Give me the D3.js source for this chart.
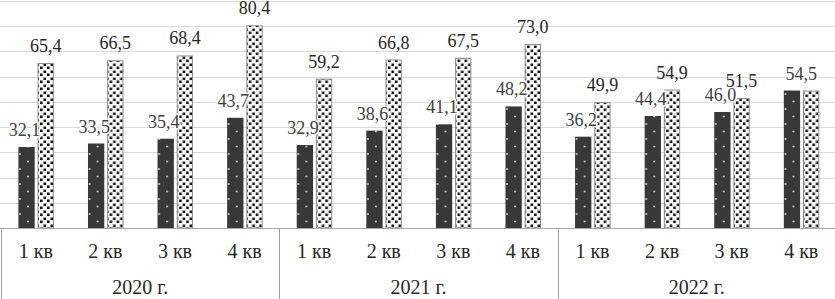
<!DOCTYPE html>
<html>
<head>
<meta charset="utf-8">
<script src="https://cdn.jsdelivr.net/npm/d3@7"></script>
<style>
  html, body { margin: 0; padding: 0; background: #fff; }
  svg { display: block; }
  svg text { font-family: "Liberation Serif", "Times New Roman", serif; }
</style>
</head>
<body>
<svg id="chart"></svg>
<script>
const years = ["2020 г.", "2021 г.", "2022 г."];
const quarters = ["1 кв", "2 кв", "3 кв", "4 кв"];
const seriesDark = [32.1, 33.5, 35.4, 43.7, 32.9, 38.6, 41.1, 48.2, 36.2, 44.4, 46.0, 54.5];
const seriesDots = [65.4, 66.5, 68.4, 80.4, 59.2, 66.8, 67.5, 73.0, 49.9, 54.9, 51.5, 54.5];
const yTicks = [0, 10, 20, 30, 40, 50, 60, 70, 80, 90];

const width = 835, height = 299;
const axisY = 228;

const rows = [];
years.forEach((y, i) => quarters.forEach((q, j) => {
    const k = i * quarters.length + j;
    rows.push({ key: y + "|" + q, year: y, quarter: q, dark: seriesDark[k], dots: seriesDots[k] });
}));

const svg = d3.select("#chart").attr("width", width).attr("height", height);

const defs = svg.append("defs");
const pDark = defs.append("pattern").attr("id", "pDark")
    .attr("patternUnits", "userSpaceOnUse").attr("width", 16).attr("height", 15);
pDark.append("rect").attr("width", 16).attr("height", 15).attr("fill", "#383838");
pDark.append("circle").attr("cx", 3).attr("cy", 4).attr("r", 1).attr("fill", "#d0d0d0");
pDark.append("circle").attr("cx", 11).attr("cy", 11.5).attr("r", 1).attr("fill", "#d0d0d0");

const pDots = defs.append("pattern").attr("id", "pDots")
    .attr("patternUnits", "userSpaceOnUse").attr("width", 7).attr("height", 7);
pDots.append("rect").attr("width", 7).attr("height", 7).attr("fill", "#fff");
[[0.5, 0.5], [4, 3.5]].forEach(([x, y]) => {
    pDots.append("rect").attr("x", x).attr("y", y).attr("width", 2.6).attr("height", 2.6).attr("fill", "#111");
});

const x = d3.scaleBand().domain(rows.map(d => d.key)).range([1, 836]);
const bw = x.bandwidth();
const xInner = d3.scaleBand().domain(["dark", "dots"]).range([bw * 0.25, bw * 0.76]).paddingInner(0.15);
const y = d3.scaleLinear().domain([0, 90]).range([axisY, 1]);
const fmt = v => d3.format(".1f")(v).replace(".", ",");

// gridlines
svg.append("g").selectAll("line").data(yTicks.filter(t => t > 0)).join("line")
    .attr("x1", 0).attr("x2", width)
    .attr("y1", d => Math.round(y(d)) + 0.5).attr("y2", d => Math.round(y(d)) + 0.5)
    .attr("stroke", "#d9d9d9").attr("stroke-width", 1);

// bars
const groups = svg.append("g").selectAll("g").data(rows).join("g")
    .attr("transform", d => `translate(${x(d.key)},0)`);

groups.append("rect")
    .attr("x", xInner("dark")).attr("width", xInner.bandwidth())
    .attr("y", d => y(d.dark)).attr("height", d => axisY - y(d.dark))
    .attr("fill", "url(#pDark)");

groups.append("rect")
    .attr("x", xInner("dots") + 0.5).attr("width", xInner.bandwidth() - 1)
    .attr("y", d => y(d.dots) + 0.5).attr("height", d => axisY - y(d.dots) - 0.5)
    .attr("fill", "url(#pDots)").attr("stroke", "#8c8c8c").attr("stroke-width", 1);

// value labels
groups.append("text")
    .attr("x", d => d.dark === d.dots ? bw / 2 : xInner("dark") + xInner.bandwidth() / 2 - 2)
    .attr("y", d => y(d.dark) - 11)
    .attr("text-anchor", "middle")
    .attr("font-size", 18)
    .attr("fill", "#404040")
    .attr("stroke", "#fff").attr("stroke-width", 3).attr("paint-order", "stroke")
    .text(d => fmt(d.dark));

groups.filter(d => d.dark !== d.dots).append("text")
    .attr("x", xInner("dots") + xInner.bandwidth() / 2)
    .attr("y", d => y(d.dots) - 11)
    .attr("text-anchor", "middle")
    .attr("font-size", 18)
    .attr("fill", "#262626")
    .text(d => fmt(d.dots));

// x axis: quarters
const xAxis = svg.append("g").attr("transform", `translate(0,${axisY})`)
    .call(d3.axisBottom(x).tickSize(0).tickPadding(0).tickFormat(k => k.split("|")[1]));
xAxis.attr("font-family", null);
xAxis.select(".domain").attr("stroke", "#a6a6a6").attr("d", `M0,0.5H${width}`);
xAxis.selectAll("text")
    .attr("dy", null).attr("y", 30)
    .attr("font-size", 20).attr("fill", "#262626");

// year separators
const yearStarts = years.map(yr => x(yr + "|" + quarters[0]));
svg.append("g").selectAll("line").data(yearStarts).join("line")
    .attr("x1", d => Math.round(d) + 0.5).attr("x2", d => Math.round(d) + 0.5)
    .attr("y1", axisY).attr("y2", height)
    .attr("stroke", "#a6a6a6");

// year labels
svg.append("g").selectAll("text").data(years).join("text")
    .attr("x", yr => x(yr + "|" + quarters[0]) + bw * quarters.length / 2)
    .attr("y", 294)
    .attr("text-anchor", "middle")
    .attr("font-size", 20).attr("fill", "#262626")
    .text(yr => yr);
</script>
</body>
</html>
